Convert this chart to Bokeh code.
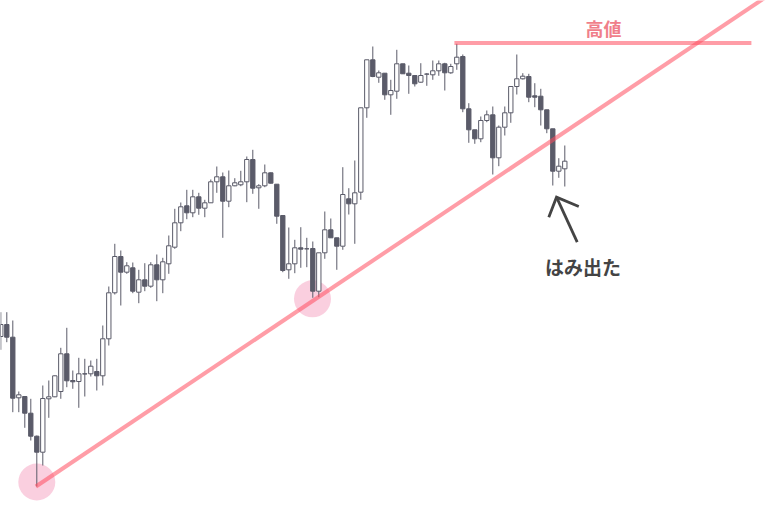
from bokeh.plotting import figure
from bokeh.models import Range1d, ColumnDataSource
from bokeh.embed import file_html
from bokeh.resources import INLINE
from bokeh.core.properties import value

# ---- candle data (price units) ----
opens = [181, 193, 180.3, 119.7, 121, 104.3, 81.3, 65.3, 118.7, 120.7,
         126, 163.7, 137, 136, 143.7, 143.7, 146, 141.7, 178.7, 224.7,
         261, 245.3, 249.7, 225.3, 237.7, 231.3, 252.7, 237.7, 253.7, 270.3,
         294.7, 311.7, 304.7, 320.7, 309.3, 314.7, 335.7, 340.7, 316.3, 331.7,
         332.7, 335.7, 358, 329.7, 331.7, 344.7, 333.3, 302, 247.7, 253.7,
         269.7, 268.7, 269, 226.3, 264.7, 287.7, 279.7, 271.3, 318.7, 313.7,
         325.3, 409.7, 457.7, 440.3, 444.3, 422.7, 426.3, 453.7, 444.3, 442,
         435.3, 443.3, 442.7, 446.7, 453.7, 444.7, 453.7, 461, 408.7, 387.7,
         378.7, 397, 402.7, 359.7, 390.3, 404.7, 431, 438.7, 441, 421.7,
         421.3, 407.7, 388.7, 346.3, 348.7]
highs = [205.3, 205.3, 197, 126, 121, 118.7, 82, 132, 137, 142,
         169.7, 189.7, 147, 159.7, 158.7, 157, 158.7, 192, 231, 273.7,
         267, 255.3, 255, 247.7, 254.3, 255.3, 263, 259.7, 282, 308.7,
         315, 327.7, 327.7, 324.7, 317.7, 338, 351, 345, 347, 339.3,
         346.7, 361, 367.7, 333.3, 353, 345, 333.3, 302, 290, 277.7,
         290.3, 279.7, 276, 264.7, 306, 299, 279.7, 350.3, 329.3, 357,
         409.7, 457.7, 471, 447, 444.3, 437.7, 467.7, 453.7, 452, 442,
         454.3, 444.3, 457, 457, 454.7, 453.7, 473.7, 463, 414.3, 387.7,
         401, 407, 411, 392, 411, 431, 463, 444.3, 443.7, 434.3,
         428.7, 407.7, 388.7, 359.3, 372]
lows = [167.7, 175.3, 105.3, 105.3, 89.7, 77, 31, 52, 99.7, 120.3,
        118.7, 130.3, 128.7, 109.7, 121, 141, 127, 132, 172, 223,
        212, 243.7, 224.3, 214.3, 226.3, 229.7, 216.3, 224.3, 243.7, 268.7,
        286.3, 298.3, 300.3, 302.7, 300.3, 314.7, 324.7, 279.7, 310.3, 331.3,
        331.3, 315.3, 323.7, 308.7, 330.3, 334, 293.7, 245.3, 238.7, 244.3,
        249.7, 250.3, 219.7, 220.3, 258.7, 279.7, 247.7, 267.7, 303, 273.7,
        317.7, 399.7, 440.3, 434.7, 417.7, 402.7, 418.7, 443.7, 423.7, 431,
        434.7, 431.7, 437.7, 441.7, 427, 443.7, 447.7, 405.3, 374.7, 373.7,
        375.3, 395.3, 343, 351.3, 382, 394.7, 423, 438, 415.3, 410.3,
        392, 384.3, 332, 339.7, 331]
closes = [193, 180.3, 119.3, 122.7, 104.3, 81.3, 65.3, 119, 120.7, 141.7,
          163.7, 136.7, 135.7, 143.7, 143.5, 151.3, 141.7, 178.7, 224.7, 261,
          245.3, 251.7, 226.3, 237.7, 231.3, 252.7, 237.7, 255.7, 271.7, 294.7,
          310.7, 304.7, 320.7, 309.3, 314.7, 335.7, 340.7, 316.3, 331.7, 334.7,
          335.7, 358, 329.3, 331.7, 344.7, 334.3, 301.3, 247, 253.7, 269.7,
          268.3, 268.7, 226.3, 264.7, 287.7, 279.7, 271.3, 323, 313.7, 324.7,
          409.7, 457.7, 441, 444.7, 422.7, 427, 453.7, 443.7, 442, 433.7,
          442, 443.5, 446.7, 453.7, 444.7, 451, 460.3, 408.7, 387.7, 378.7,
          397, 402.7, 359.7, 390.3, 404.7, 431, 438.7, 441.3, 420.3, 420.3,
          407.7, 388.7, 346.3, 351.3, 356.3]

# ---- annotation anchors ----
touch_a = 6          # first trend-line touch (candle index)
touch_b = 52         # second trend-line touch (circle)
touch_c = 53         # candle whose low fixes the line slope
high_label = "高値"
break_label = "はみ出た"

CANDLE = "#5a5b69"
LINE = "#ff4d5e"
CIRCLE = "#f5a0c0"

n = len(opens)
idx = list(range(n))
is_up = [c >= o for o, c in zip(opens, closes)]

up = ColumnDataSource(dict(
    x=[i for i in idx if is_up[i]],
    top=[closes[i] for i in idx if is_up[i]],
    bottom=[opens[i] for i in idx if is_up[i]],
))
dn = ColumnDataSource(dict(
    x=[i for i in idx if not is_up[i]],
    top=[opens[i] for i in idx if not is_up[i]],
    bottom=[closes[i] for i in idx if not is_up[i]],
))

p = figure(width=766, height=517,
           x_range=Range1d(-0.05, 127.617), y_range=Range1d(0, 517),
           x_axis_type=None, y_axis_type=None,
           output_backend="svg", toolbar_location=None, min_border=0)
p.outline_line_color = None
p.background_fill_color = "white"
p.border_fill_color = "white"

# touch circles
p.scatter([touch_a, touch_b - 0.05], [lows[touch_a] + 4.5, lows[touch_b] - 1],
          size=37, fill_color=CIRCLE, fill_alpha=0.5, line_color=None)

# wicks and bodies
p.segment(x0=idx, y0=lows, x1=idx, y1=highs, line_color=CANDLE, line_width=1)
p.vbar(x="x", top="top", bottom="bottom", width=0.72, source=up,
       fill_color="white", line_color=CANDLE, line_width=1)
p.vbar(x="x", top="top", bottom="bottom", width=0.72, source=dn,
       fill_color=CANDLE, line_color=CANDLE, line_width=1)

# trend line through the lows
slope = (lows[touch_c] - lows[touch_a]) / (touch_c - touch_a)
x_end = 130
p.line([touch_a - 0.15, x_end], [lows[touch_a], lows[touch_a] + slope * (x_end - touch_a)],
       line_color=LINE, line_alpha=0.55, line_width=4)

# high line
high_level = max(highs) + 0.8
p.line([75.6, 125.1], [high_level, high_level],
       line_color=LINE, line_alpha=0.55, line_width=4)

p.text([100.45], [490], text=[high_label], text_align="center", text_baseline="middle",
       text_font=value("Noto Sans CJK JP"), text_font_style="bold",
       text_font_size="18px", text_color="#f07f8a")

# arrow
p.multi_line(xs=[[96.07, 92.62], [91.33, 92.62, 96.33]],
             ys=[[275.3, 320.3], [300.3, 320.3, 311.0]],
             line_color="#444444", line_width=2.8, line_join="miter")

p.text([97.03], [251.5], text=[break_label], text_align="center", text_baseline="middle",
       text_font=value("Noto Sans CJK JP"), text_font_style="bold",
       text_font_size="19px", text_color="#444444")

open("out.html", "w").write(file_html(p, INLINE))
